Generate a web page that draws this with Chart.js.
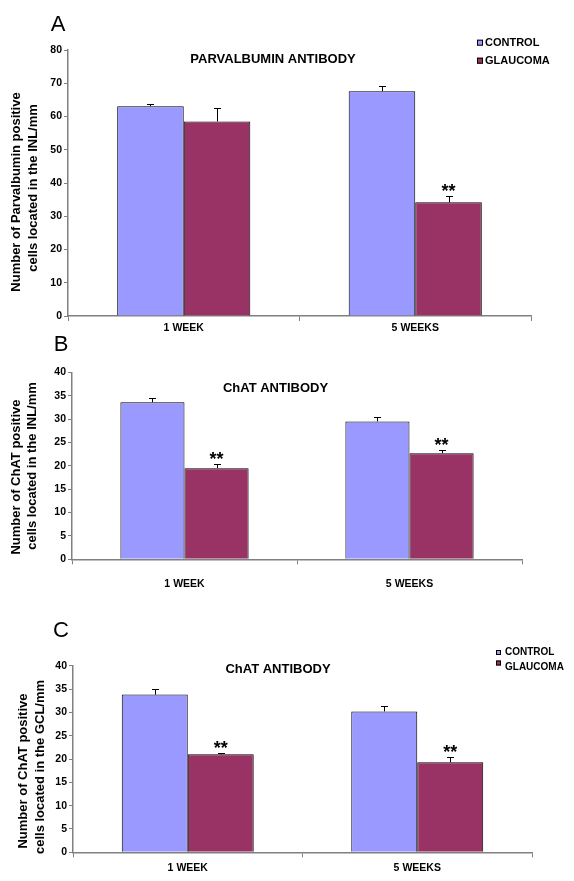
<!DOCTYPE html>
<html><head><meta charset="utf-8">
<script src="https://cdn.jsdelivr.net/npm/chart.js@4.4.1/dist/chart.umd.min.js"></script>
<style>
html,body{margin:0;padding:0;background:#fff;}
body{width:574px;height:881px;position:relative;overflow:hidden;}
canvas{position:absolute;left:0;}
</style></head><body>
<canvas id="cA" width="574" height="335" style="top:0px"></canvas>
<canvas id="cB" width="574" height="265" style="top:335px"></canvas>
<canvas id="cC" width="574" height="281" style="top:600px"></canvas>
<script>
// ---- data ----
const categories = ['1 WEEK', '5 WEEKS'];
const seriesNames = ['CONTROL', 'GLAUCOMA'];

const parvControl = [63.1, 67.6];
const parvControlErr = [0.6, 1.7];
const parvGlaucoma = [58.5, 34.2];
const parvGlaucomaErr = [4.0, 1.8];
const parvGlaucomaSig = [false, true];

const chatInlControl = [33.6, 29.5];
const chatInlControlErr = [0.8, 0.9];
const chatInlGlaucoma = [19.5, 22.7];
const chatInlGlaucomaErr = [0.8, 0.6];
const chatInlGlaucomaSig = [true, true];

const chatGclControl = [33.8, 30.2];
const chatGclControlErr = [1.1, 1.1];
const chatGclGlaucoma = [21.0, 19.3];
const chatGclGlaucomaErr = [0.2, 1.1];
const chatGclGlaucomaSig = [true, true];

const FONT = "Arial, 'Liberation Sans', sans-serif";
const CONTROL_COLOR = '#9999FF';
const GLAUCOMA_COLOR = '#993366';

const decor = {
  id: 'decor',
  afterDatasetsDraw(chart, args, o) {
    const ctx = chart.ctx;
    const ys = chart.scales.y;
    ctx.save();
    ctx.strokeStyle = '#000';
    ctx.lineWidth = 1;
    chart.data.datasets.forEach((ds, di) => {
      const meta = chart.getDatasetMeta(di);
      meta.data.forEach((el, j) => {
        const err = ds.errors[j];
        const x = Math.round(el.x) + 0.5;
        const yTop = Math.round(ys.getPixelForValue(ds.data[j] + err)) + 0.5;
        const yBar = el.y;
        ctx.beginPath();
        ctx.moveTo(x, yBar);
        ctx.lineTo(x, yTop);
        ctx.moveTo(x - 3.5, yTop);
        ctx.lineTo(x + 3.5, yTop);
        ctx.stroke();
        if (ds.sig && ds.sig[j]) {
          ctx.fillStyle = '#000';
          ctx.font = 'bold 18px ' + FONT;
          ctx.textAlign = 'center';
          ctx.textBaseline = 'alphabetic';
          const cy = yTop - 10;
          ctx.fillText('**', el.x, cy + 0.57 * 18);
        }
      });
    });
    ctx.restore();
  },
  afterDraw(chart, args, o) {
    const ctx = chart.ctx;
    ctx.save();
    ctx.fillStyle = '#000';
    ctx.textAlign = 'center';
    ctx.textBaseline = 'middle';
    ctx.font = '22px ' + FONT;
    ctx.fillText(o.letter, o.letterX, o.letterY);
    ctx.font = 'bold 13px ' + FONT;
    ctx.fillText(o.title, o.titleX, o.titleY);
    o.yTitle.forEach((line, i) => {
      ctx.save();
      ctx.translate(o.yTitleX[i], o.yTitleY[i]);
      ctx.rotate(-Math.PI / 2);
      ctx.fillText(line, 0, 0);
      ctx.restore();
    });
    if (o.legend) {
      const L = o.legend;
      ctx.textAlign = 'left';
      ctx.font = 'bold ' + L.fontSize + 'px ' + FONT;
      chart.data.datasets.forEach((ds, i) => {
        const s = L.size;
        const sy = L.squareY[i];
        ctx.fillStyle = ds.backgroundColor;
        ctx.fillRect(L.squareX, sy - s / 2, s, s);
        ctx.strokeStyle = '#000';
        ctx.lineWidth = 1;
        ctx.strokeRect(L.squareX + 0.5, sy - s / 2 + 0.5, s - 1, s - 1);
        ctx.fillStyle = '#000';
        ctx.fillText(ds.label, L.textX, L.textY[i]);
      });
    }
    ctx.restore();
  }
};

function makeChart(id, cfg) {
  const tickFont = { family: FONT, size: 10.5, weight: 'bold' };
  return new Chart(document.getElementById(id), {
    type: 'bar',
    data: {
      labels: categories,
      datasets: [
        { label: seriesNames[0], data: cfg.control, errors: cfg.controlErr,
          backgroundColor: CONTROL_COLOR, borderColor: '#000', borderWidth: 1,
          categoryPercentage: cfg.catPct, barPercentage: 1 },
        { label: seriesNames[1], data: cfg.glaucoma, errors: cfg.glaucomaErr, sig: cfg.sig,
          backgroundColor: GLAUCOMA_COLOR, borderColor: '#000', borderWidth: 1,
          categoryPercentage: cfg.catPct, barPercentage: 1 }
      ]
    },
    options: {
      responsive: false,
      animation: false,
      layout: { padding: { left: 0, top: cfg.padTop, right: cfg.padRight, bottom: 0 } },
      plugins: {
        legend: { display: false },
        tooltip: { enabled: false },
        decor: cfg.decor
      },
      scales: {
        x: {
          type: 'category',
          offset: true,
          grid: { offset: true, drawOnChartArea: false, drawTicks: true, tickLength: 5, color: '#808080', lineWidth: 1 },
          border: { display: true, color: '#808080', width: 1.5 },
          ticks: { color: '#000', font: tickFont, padding: cfg.xPad, maxRotation: 0 },
          afterFit: s => { s.height = cfg.xHeight; }
        },
        y: {
          min: 0, max: cfg.yMax,
          ticks: { stepSize: cfg.yStep, color: '#000', font: tickFont, padding: 2 },
          grid: { drawOnChartArea: false, drawTicks: true, tickLength: 4, color: '#808080' },
          border: { display: true, color: '#808080', width: 1.5 },
          afterFit: s => { s.width = cfg.yWidth; }
        }
      }
    },
    plugins: [decor]
  });
}

makeChart('cA', {
  control: parvControl, controlErr: parvControlErr,
  glaucoma: parvGlaucoma, glaucomaErr: parvGlaucomaErr, sig: parvGlaucomaSig,
  catPct: 0.575, padTop: 50, padRight: 43, yWidth: 68, xHeight: 19, xPad: 1,
  yMax: 80, yStep: 10,
  decor: {
    letter: 'A', letterX: 58, letterY: 25,
    title: 'PARVALBUMIN ANTIBODY', titleX: 273, titleY: 59,
    yTitle: ['Number of Parvalbumin positive', 'cells located in the INL/mm'],
    yTitleX: [16.5, 33], yTitleY: [192, 188],
    legend: { squareX: 477, size: 6, squareY: [42.7, 60.7], textX: 485, textY: [42.7, 60.7], fontSize: 11 }
  }
});

makeChart('cB', {
  control: chatInlControl, controlErr: chatInlControlErr,
  glaucoma: chatInlGlaucoma, glaucomaErr: chatInlGlaucomaErr, sig: chatInlGlaucomaSig,
  catPct: 0.57, padTop: 37.3, padRight: 52, yWidth: 72, xHeight: 40.7, xPad: 14,
  yMax: 40, yStep: 5,
  decor: {
    letter: 'B', letterX: 61, letterY: 10,
    title: 'ChAT ANTIBODY', titleX: 275.5, titleY: 53,
    yTitle: ['Number of ChAT positive', 'cells located in the INL/mm'],
    yTitleX: [16.5, 32], yTitleY: [142, 131]
  }
});

makeChart('cC', {
  control: chatGclControl, controlErr: chatGclControlErr,
  glaucoma: chatGclGlaucoma, glaucomaErr: chatGclGlaucomaErr, sig: chatGclGlaucomaSig,
  catPct: 0.575, padTop: 65.7, padRight: 42, yWidth: 73, xHeight: 28.7, xPad: 5,
  yMax: 40, yStep: 5,
  decor: {
    letter: 'C', letterX: 61, letterY: 31,
    title: 'ChAT ANTIBODY', titleX: 278, titleY: 69,
    yTitle: ['Number of ChAT positive', 'cells located in the GCL/mm'],
    yTitleX: [23.5, 40.5], yTitleY: [171, 167],
    legend: { squareX: 496, size: 5, squareY: [52.5, 63], textX: 505, textY: [52, 67.5], fontSize: 10 }
  }
});
</script>
</body></html>
